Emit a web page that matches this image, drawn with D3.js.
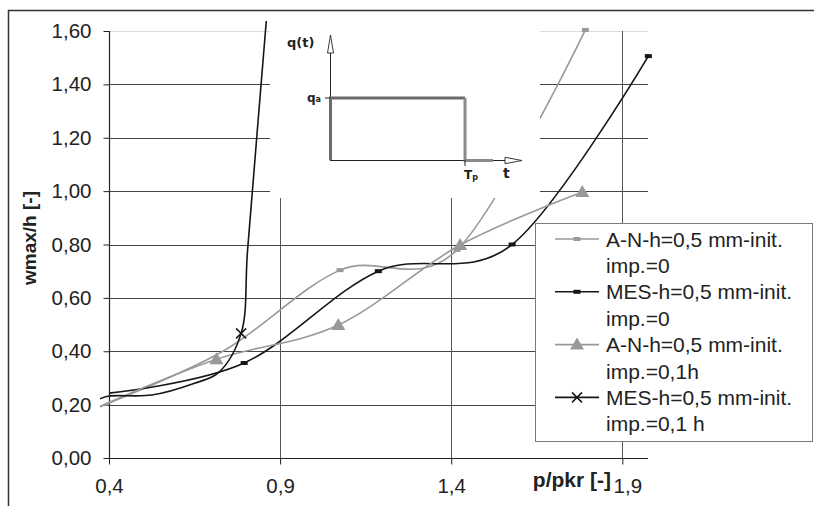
<!DOCTYPE html>
<html><head><meta charset="utf-8">
<script src="https://cdn.jsdelivr.net/npm/d3@7"></script>
<style>
body{margin:0;background:#fff;}
svg{display:block;font-family:"Liberation Sans",Arial,sans-serif;}
</style></head>
<body><svg id="c" width="814" height="506"></svg>
<script>
// ---- data ----
const xTicks = [0.4, 0.9, 1.4, 1.9];
const yTicks = [0, 0.2, 0.4, 0.6, 0.8, 1.0, 1.2, 1.4, 1.6];
const seriesNames = [
  ["A-N-h=0,5 mm-init.", "imp.=0"],
  ["MES-h=0,5 mm-init.", "imp.=0"],
  ["A-N-h=0,5 mm-init.", "imp.=0,1h"],
  ["MES-h=0,5 mm-init.", "imp.=0,1 h"]
];
const anImp0X = [0.36, 0.733, 1.075, 1.417, 1.792];
const anImp0Y = [0.185, 0.40, 0.704, 0.78, 1.604];
const anImp0Marks = [2, 3, 4];
const mesImp0X = [0.40, 0.795, 1.187, 1.578, 1.976];
const mesImp0Y = [0.243, 0.356, 0.70, 0.80, 1.506];
const mesImp0Marks = [1, 2, 3, 4];
const anImp1X = [0.358, 0.714, 1.07, 1.426, 1.783];
const anImp1Y = [0.185, 0.37, 0.498, 0.798, 0.997];
const anImp1Marks = [1, 2, 3, 4];
const mesImp1X = [0.37, 0.40, 0.525, 0.65, 0.72, 0.786, 0.805, 0.87];
const mesImp1Y = [0.22, 0.232, 0.236, 0.28, 0.32, 0.467, 0.78, 1.80];
const mesImp1Marks = [5];

const GRAY = "#999999", BLACK = "#161616";
const series = [
  {x: anImp0X, y: anImp0Y, marks: anImp0Marks, color: GRAY, marker: "square", curve: d3.curveCardinal.tension(0)},
  {x: mesImp0X, y: mesImp0Y, marks: mesImp0Marks, color: BLACK, marker: "square", curve: d3.curveCardinal.tension(0)},
  {x: anImp1X, y: anImp1Y, marks: anImp1Marks, color: GRAY, marker: "triangle", curve: d3.curveCardinal.tension(0)},
  {x: mesImp1X, y: mesImp1Y, marks: mesImp1Marks, color: BLACK, marker: "x", curve: d3.curveCatmullRom.alpha(0.5)}
];

const svg = d3.select("#c");
const x = d3.scaleLinear().domain([0.4, 1.975]).range([109, 648]);
const y = d3.scaleLinear().domain([0, 1.6]).range([458, 31]);
const comma = f => v => d3.format(f)(v).replace(".", ",");

// outer frame
svg.append("rect").attr("x", 8.5).attr("y", 10.5).attr("width", 830).attr("height", 530)
  .attr("fill", "#fff").attr("stroke", "#333").attr("stroke-width", 1.5);

// gridlines
svg.append("g").selectAll("line").data(yTicks.filter(d => d > 0)).join("line")
  .attr("x1", x(0.4)).attr("x2", x(1.975))
  .attr("y1", d => Math.round(y(d)) + 0.5).attr("y2", d => Math.round(y(d)) + 0.5)
  .attr("stroke", d => d >= 1.6 ? "#dddddd" : "#444").attr("stroke-width", 1);
svg.append("g").selectAll("line").data(xTicks.filter(d => d > 0.4)).join("line")
  .attr("x1", d => Math.round(x(d)) + 0.5).attr("x2", d => Math.round(x(d)) + 0.5)
  .attr("y1", y(1.6)).attr("y2", y(0))
  .attr("stroke", "#555").attr("stroke-width", 1);

// axes
const yAxis = svg.append("g").attr("transform", "translate(109.5,0)")
  .call(d3.axisLeft(y).tickValues(yTicks).tickFormat(comma(".2f")).tickSize(6).tickPadding(12));
const xAxis = svg.append("g").attr("transform", "translate(0,458.5)")
  .call(d3.axisBottom(x).tickValues(xTicks).tickFormat(comma(".1f")).tickSize(6).tickPadding(14));
[yAxis, xAxis].forEach(a => {
  a.select(".domain").attr("stroke", "#222").attr("stroke-width", 1.2);
  a.selectAll(".tick line").attr("stroke", "#222");
  a.selectAll("text").attr("font-size", 20.5).attr("fill", "#222")
    .attr("font-family", "Liberation Sans, Arial, sans-serif");
});
xAxis.select(".domain").attr("d", "M109,0H648");
yAxis.select(".domain").attr("d", "M0,458V31");
xAxis.selectAll(".tick text").filter(d => d === 1.9).attr("dx", 5);

// curves
svg.append("clipPath").attr("id", "clip").append("rect")
  .attr("x", 100).attr("y", 21).attr("width", 548).attr("height", 437);
const gC = svg.append("g").attr("clip-path", "url(#clip)");
series.forEach(s => {
  const pts = s.x.map((v, i) => [v, s.y[i]]);
  gC.append("path").attr("d", d3.line().x(d => x(d[0])).y(d => y(d[1])).curve(s.curve)(pts))
    .attr("fill", "none").attr("stroke", s.color).attr("stroke-width", 1.6);
});

function drawMarker(g, type, cx, cy, color) {
  if (type === "square") {
    g.append("rect").attr("x", cx - 3.5).attr("y", cy - 2).attr("width", 7).attr("height", 4).attr("fill", color);
  } else if (type === "triangle") {
    g.append("path").attr("d", `M${cx},${cy - 7}L${cx + 7},${cy + 5}L${cx - 7},${cy + 5}Z`).attr("fill", color);
  } else {
    g.append("path").attr("d", `M${cx - 5},${cy - 5}L${cx + 5},${cy + 5}M${cx - 5},${cy + 5}L${cx + 5},${cy - 5}`)
      .attr("stroke", color).attr("stroke-width", 1.5);
  }
}
const gM = svg.append("g");
series.forEach(s => {
  s.marks.forEach(i => drawMarker(gM, s.marker, x(s.x[i]), y(s.y[i]), s.color));
});

// inset (load diagram)
const ins = svg.append("g");
ins.append("rect").attr("x", 270).attr("y", 21).attr("width", 270).attr("height", 177).attr("fill", "#fff");
ins.append("line").attr("x1", 330.5).attr("x2", 330.5).attr("y1", 160).attr("y2", 52).attr("stroke", "#222");
ins.append("path").attr("d", "M330.5,35L333.5,53L327.5,53Z").attr("fill", "#fff").attr("stroke", "#222").attr("stroke-width", 0.9);
ins.append("line").attr("x1", 330).attr("x2", 506).attr("y1", 160.5).attr("y2", 160.5).attr("stroke", "#222");
ins.append("path").attr("d", "M522,160.5L505,157.3L505,163.7Z").attr("fill", "#fff").attr("stroke", "#222").attr("stroke-width", 0.9);
ins.append("path").attr("d", "M330.5,160V98H465").attr("fill", "none").attr("stroke", "#6b6b6b").attr("stroke-width", 3);
ins.append("path").attr("d", "M465,98V160.5H493").attr("fill", "none").attr("stroke", "#8a8a8a").attr("stroke-width", 3);
ins.append("line").attr("x1", 325).attr("x2", 330).attr("y1", 98).attr("y2", 98).attr("stroke", "#222");
ins.append("line").attr("x1", 465).attr("x2", 465).attr("y1", 160).attr("y2", 166).attr("stroke", "#222");
const insFont = "DejaVu Sans, Verdana, sans-serif";
ins.append("text").attr("x", 287).attr("y", 47).attr("font-family", insFont).attr("font-weight", "bold")
  .attr("font-size", 13).attr("fill", "#222").text("q(t)");
const qa = ins.append("text").attr("x", 307).attr("y", 102).attr("font-family", insFont).attr("font-weight", "bold")
  .attr("font-size", 12).attr("fill", "#222");
qa.append("tspan").text("q");
qa.append("tspan").attr("font-size", 8).text("a");
const tp = ins.append("text").attr("x", 464).attr("y", 179).attr("font-family", insFont).attr("font-weight", "bold")
  .attr("font-size", 12).attr("fill", "#222");
tp.append("tspan").text("T");
tp.append("tspan").attr("font-size", 8).attr("dy", 1).text("p");
ins.append("text").attr("x", 503).attr("y", 178).attr("font-family", insFont).attr("font-weight", "bold")
  .attr("font-size", 14).attr("fill", "#222").text("t");

// axis titles
svg.append("text").attr("transform", "translate(36,238) rotate(-90)").attr("text-anchor", "middle")
  .attr("font-weight", "bold").attr("font-size", 19).attr("fill", "#222").text("wmax/h [-]");
svg.append("text").attr("x", 611).attr("y", 487).attr("text-anchor", "end")
  .attr("font-weight", "bold").attr("font-size", 21).attr("fill", "#222").text("p/pkr [-]");

// legend
const lg = svg.append("g");
lg.append("rect").attr("x", 535.5).attr("y", 223.5).attr("width", 277).attr("height", 218)
  .attr("fill", "#fff").attr("stroke", "#7a7a7a").attr("stroke-width", 1);
series.forEach((s, i) => {
  const cy = 239 + i * 52.8;
  lg.append("line").attr("x1", 555).attr("x2", 599).attr("y1", cy).attr("y2", cy)
    .attr("stroke", s.color).attr("stroke-width", 1.6);
  drawMarker(lg, s.marker, 577, cy, s.color);
  seriesNames[i].forEach((t, j) => {
    lg.append("text").attr("x", 606).attr("y", cy + 7.5 + j * 26.4).attr("font-size", 21)
      .attr("fill", "#222").text(t);
  });
});
</script></body></html>
